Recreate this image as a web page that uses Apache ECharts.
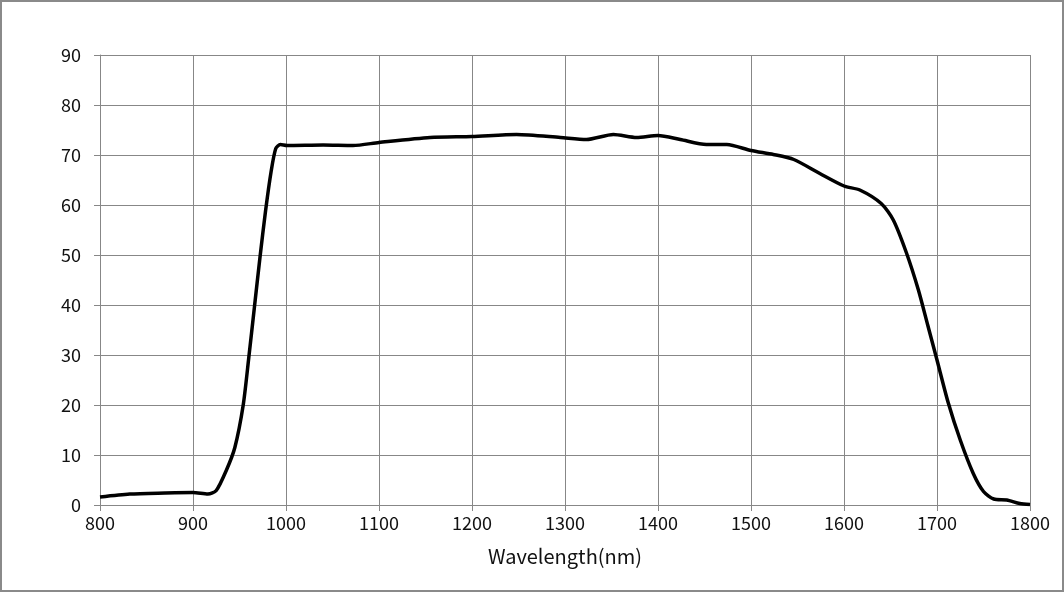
<!DOCTYPE html>
<html>
<head>
<meta charset="utf-8">
<script src="https://cdn.jsdelivr.net/npm/echarts@6/dist/echarts.min.js"></script>
<style>
html,body{margin:0;padding:0;background:#fff;}
#wrap{width:1064px;height:592px;box-sizing:border-box;border:2px solid #8a8a8a;position:relative;overflow:hidden;}
#chart{position:absolute;left:-2px;top:-2px;width:1064px;height:592px;}
</style>
</head>
<body>
<div id="wrap"><div id="chart"></div></div>
<script>
const wavelengths = [800, 832, 870, 900, 916, 925, 936, 945, 954, 960, 966, 972, 978, 984, 989, 994, 1001, 1040, 1072, 1100, 1155, 1200, 1248, 1295, 1323, 1352, 1377, 1400, 1424, 1452, 1474, 1500, 1524, 1546, 1574, 1600, 1617, 1640, 1653, 1667, 1680, 1690, 1700, 1712, 1725, 1739, 1750, 1761, 1775, 1789, 1800];
const values = [1.6, 2.2, 2.4, 2.5, 2.2, 2.9, 7, 11.5, 20, 29.5, 39.5, 49.5, 58.8, 66.7, 71.3, 72.1, 71.9, 72, 71.9, 72.5, 73.5, 73.7, 74.1, 73.5, 73.1, 74.1, 73.5, 73.9, 73.1, 72.1, 72.1, 70.9, 70.1, 69.1, 66.3, 63.8, 63, 60.3, 57, 50.5, 43, 36, 29, 20.5, 13, 6.3, 2.7, 1.2, 1.0, 0.3, 0.1];
const xTitle = 'Wavelength(nm)';

const chart = echarts.init(document.getElementById('chart'), null, {renderer: 'canvas'});
const gridColor = '#878787';
const font = '"Noto Sans CJK JP", "DejaVu Sans", sans-serif';
chart.setOption({
  animation: false,
  backgroundColor: 'transparent',
  grid: {left: 100, right: 34, top: 55, bottom: 87, containLabel: false},
  xAxis: {
    type: 'value', min: 800, max: 1800, interval: 100,
    name: xTitle, nameLocation: 'middle', nameGap: 41,
    nameTextStyle: {fontFamily: font, fontSize: 20, color: '#111'},
    axisLine: {show: true, lineStyle: {color: gridColor, width: 1}},
    axisTick: {show: true, length: 6, lineStyle: {color: gridColor}},
    axisLabel: {fontFamily: font, fontSize: 18, color: '#111', margin: 9, formatter: v => String(v)},
    splitLine: {show: true, lineStyle: {color: gridColor, width: 1}}
  },
  yAxis: {
    type: 'value', min: 0, max: 90, interval: 10,
    axisLine: {show: true, lineStyle: {color: gridColor, width: 1}},
    axisTick: {show: true, length: 6, lineStyle: {color: gridColor}},
    axisLabel: {fontFamily: font, fontSize: 18, color: '#111', margin: 19, formatter: v => String(v)},
    splitLine: {show: true, lineStyle: {color: gridColor, width: 1}}
  },
  series: [{
    type: 'line',
    data: wavelengths.map((w, i) => [w, values[i]]),
    smooth: 0.25,
    showSymbol: false,
    lineStyle: {color: '#000', width: 3.5},
    itemStyle: {color: '#000'}
  }]
});
</script>
</body>
</html>
